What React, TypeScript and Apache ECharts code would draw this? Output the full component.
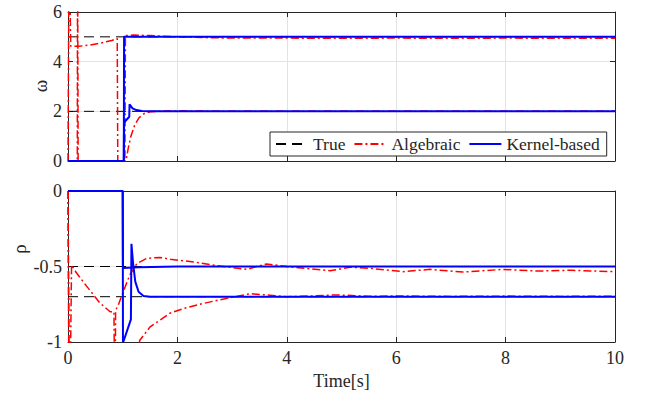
import React, { useEffect, useRef } from "react";
import * as echarts from "echarts";

// ---------- data ----------
const timeTicks = [0, 2, 4, 6, 8, 10];
const omegaTicks = [0, 2, 4, 6];
const rhoTicks = [-1, -0.5, 0];

// omega (top)
const trueOmega1 = [[0, 5], [10, 5]];
const trueOmega2 = [[0, 2], [10, 2]];
const algOmega1 = [
  [0, 0], [0.02, 9], [0.05, 4.62], [0.2, 4.62], [0.4, 4.67], [0.6, 4.75], [0.8, 4.85], [0.9, 4.93],
  [0.91, 0], [1.04, 0], [1.05, 5.05], [1.2, 5.07], [1.5, 5.05], [2, 5.0], [2.5, 4.97], [3, 4.95],
  [4, 4.95], [5, 4.94], [6, 4.95], [7, 4.94], [8, 4.95], [9, 4.94], [10, 4.94],
];
const algOmega2 = [
  [0, 0], [0.17, 0], [0.175, 9], [0.185, 0], [1.06, 0], [1.1, 0.5], [1.15, 1.0], [1.22, 1.45],
  [1.3, 1.75], [1.4, 1.92], [1.5, 1.98], [1.7, 2.01], [2, 2.02], [3, 2.0], [10, 2.0],
];
const kerOmega1 = [[0, 0], [1.02, 0], [1.025, 5], [10, 5]];
const kerOmega2 = [
  [0, 0], [1.02, 0], [1.025, 1.55], [1.12, 1.78], [1.125, 2.28], [1.18, 2.12], [1.25, 2.05],
  [1.35, 2.01], [1.5, 2.0], [10, 2.0],
];

// rho (bottom)
const trueRho1 = [[0, -0.5], [10, -0.5]];
const trueRho2 = [[0, -0.7], [10, -0.7]];
const algRho1 = [
  [0, 0], [0.02, -1.6], [0.86, -1.6], [0.87, -0.79], [0.92, -0.755], [1.01, -0.667], [1.13, -0.556],
  [1.26, -0.48], [1.44, -0.446], [1.68, -0.44], [1.87, -0.452], [2.3, -0.47], [2.78, -0.497],
  [3.27, -0.519], [3.45, -0.5], [3.63, -0.483], [4.0, -0.5], [4.4, -0.515], [4.79, -0.528],
  [5.16, -0.505], [5.52, -0.512], [6.12, -0.534], [6.62, -0.519], [7.22, -0.537], [7.95, -0.519],
  [8.57, -0.53], [9.2, -0.525], [9.96, -0.534], [10, -0.534],
];
const algRho2 = [
  [0, 0], [0.03, -1.6], [0.065, -0.49], [0.15, -0.54], [0.34, -0.63], [0.58, -0.74], [0.77, -0.8],
  [0.84, -0.8], [0.86, -1.6], [1.28, -1.1], [1.31, -0.99], [1.5, -0.9], [1.86, -0.81], [2.1, -0.78],
  [2.41, -0.75], [2.78, -0.72], [3.33, -0.68], [3.69, -0.69], [4.0, -0.7], [4.5, -0.695],
  [4.91, -0.688], [5.5, -0.697], [6, -0.695], [7, -0.698], [8, -0.696], [9, -0.698], [10, -0.697],
];
const kerRho1 = [[0, 0], [1.0, 0], [1.005, -0.51], [1.3, -0.505], [2, -0.5], [10, -0.5]];
const kerRho2 = [
  [0, 0], [1.0, 0], [1.005, -1.0], [1.02, -0.99], [1.15, -0.85], [1.16, -0.35], [1.19, -0.48],
  [1.23, -0.6], [1.29, -0.667], [1.38, -0.695], [1.5, -0.7], [10, -0.7],
];

const legendNames = ["True", "Algebraic", "Kernel-based"];

// ---------- styles ----------
const FONT = "Liberation Serif";
const AX = "#262626";
const styles: Record<string, any> = {
  True: { color: "#000000", width: 1, type: [10, 6] },
  Algebraic: { color: "#ff0000", width: 1.5, type: [8, 3, 2, 3] },
  "Kernel-based": { color: "#0000ff", width: 2, type: "solid" },
};

const tickRich = { t: { color: AX, fontFamily: FONT, fontSize: 18, lineHeight: 20 } };
const tickFmt = (v: number) => `{t|${v}}`;

function mkSeries(name: string, data: number[][], gi: number) {
  return {
    type: "line",
    name,
    data,
    xAxisIndex: gi * 2,
    yAxisIndex: gi * 2,
    symbol: "none",
    showSymbol: false,
    clip: true,
    lineStyle: { ...styles[name] },
    itemStyle: { color: styles[name].color },
    z: 2 + legendNames.indexOf(name),
  };
}

function xAxes(gi: number, showLabels: boolean) {
  const base = {
    type: "value",
    gridIndex: gi,
    min: timeTicks[0],
    max: timeTicks[timeTicks.length - 1],
    interval: 2,
    axisLine: { show: true, onZero: false, lineStyle: { color: AX, width: 1 } },
    axisTick: { show: true, inside: true, length: 5, lineStyle: { color: AX } },
  };
  return [
    {
      ...base,
      position: "bottom",
      axisLabel: {
        show: showLabels,
        margin: 6,
        color: AX,
        fontFamily: FONT,
        fontSize: 18,
        formatter: tickFmt,
        rich: tickRich,
      },
      splitLine: { show: true, lineStyle: { color: "#e3e3e3", width: 1 } },
    },
    {
      ...base,
      position: "top",
      axisLabel: { show: false },
      splitLine: { show: false },
    },
  ];
}

function yAxes(gi: number, min: number, max: number, interval: number) {
  const base = {
    type: "value",
    gridIndex: gi,
    min,
    max,
    interval,
    axisLine: { show: true, onZero: false, lineStyle: { color: AX, width: 1 } },
    axisTick: { show: true, inside: true, length: 5, lineStyle: { color: AX } },
  };
  return [
    {
      ...base,
      position: "left",
      axisLabel: {
        show: true,
        margin: 6,
        color: AX,
        fontFamily: FONT,
        fontSize: 18,
        formatter: tickFmt,
        rich: tickRich,
      },
      splitLine: { show: true, lineStyle: { color: "#e3e3e3", width: 1 } },
    },
    {
      ...base,
      position: "right",
      axisLabel: { show: false },
      splitLine: { show: false },
    },
  ];
}

export default function App() {
  const ref = useRef<HTMLDivElement>(null);
  useEffect(() => {
    if (!ref.current) return;
    const chart = echarts.init(ref.current, undefined, { renderer: "svg" });
    const option = {
      animation: false,
      backgroundColor: "#ffffff",
      textStyle: { fontFamily: FONT },
      grid: [
        { left: 68, top: 12, width: 547, height: 149, containLabel: false },
        { left: 68, top: 191, width: 547, height: 151, containLabel: false },
      ],
      xAxis: [...xAxes(0, false), ...xAxes(1, true)],
      yAxis: [...yAxes(0, omegaTicks[0], omegaTicks[omegaTicks.length - 1], 2),
              ...yAxes(1, rhoTicks[0], rhoTicks[rhoTicks.length - 1], 0.5)],
      legend: {
        data: legendNames,
        left: 270,
        top: 132,
        orient: "horizontal",
        padding: [3, 7, 3, 5],
        itemGap: 8,
        itemWidth: 32,
        itemHeight: 12,
        borderColor: AX,
        borderWidth: 1,
        borderRadius: 0,
        backgroundColor: "#ffffff",
        itemStyle: { opacity: 0 },
        textStyle: { color: AX, fontFamily: FONT, fontSize: 17.5 },
      },
      graphic: [
        {
          type: "text",
          x: 40,
          y: 86,
          rotation: Math.PI / 2,
          style: {
            text: "ω",
            fill: AX,
            fontFamily: FONT,
            fontSize: 19,
            align: "center",
            verticalAlign: "middle",
          },
        },
        {
          type: "text",
          x: 19,
          y: 249,
          rotation: Math.PI / 2,
          style: {
            text: "ρ",
            fill: AX,
            fontFamily: FONT,
            fontSize: 19,
            align: "center",
            verticalAlign: "middle",
          },
        },
        {
          type: "text",
          x: 341.5,
          y: 381,
          style: {
            text: "Time[s]",
            fill: AX,
            fontFamily: FONT,
            fontSize: 18,
            align: "center",
            verticalAlign: "middle",
          },
        },
      ],
      series: [
        mkSeries("True", trueOmega1, 0),
        mkSeries("True", trueOmega2, 0),
        mkSeries("Algebraic", algOmega1, 0),
        mkSeries("Algebraic", algOmega2, 0),
        mkSeries("Kernel-based", kerOmega1, 0),
        mkSeries("Kernel-based", kerOmega2, 0),
        mkSeries("True", trueRho1, 1),
        mkSeries("True", trueRho2, 1),
        mkSeries("Algebraic", algRho1, 1),
        mkSeries("Algebraic", algRho2, 1),
        mkSeries("Kernel-based", kerRho1, 1),
        mkSeries("Kernel-based", kerRho2, 1),
      ],
    };
    chart.setOption(option as any);
    return () => chart.dispose();
  }, []);
  return (
    <div
      ref={ref}
      style={{ position: "absolute", left: 0, top: 0, width: 645, height: 394, overflow: "hidden" }}
    />
  );
}
